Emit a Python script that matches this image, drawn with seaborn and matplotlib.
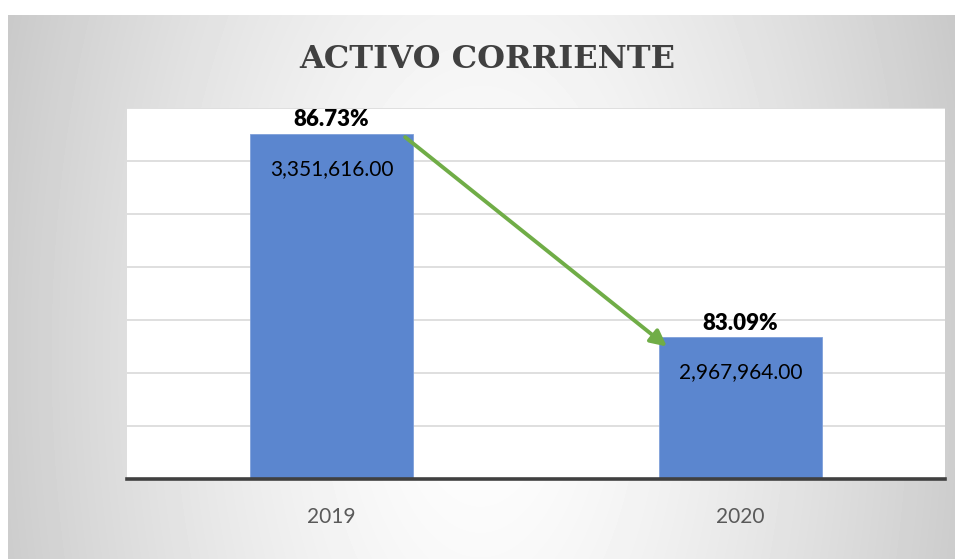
import numpy as np
import pandas as pd
import matplotlib
matplotlib.use("Agg")
import matplotlib.pyplot as plt
import seaborn as sns

# --- datos ---
years = ["2019", "2020"]
values = [3351616.00, 2967964.00]
percents = ["86.73%", "83.09%"]
title = "ACTIVO CORRIENTE"

df = pd.DataFrame({"Year": years, "Value": values})

sns.set_theme(style="white")
plt.rcParams["font.family"] = ["Lato", "DejaVu Sans"]

W, H = 955, 559
fig = plt.figure(figsize=(W / 100, H / 100), dpi=100)
fig.patch.set_facecolor("white")

# fondo con degradado radial (casi horizontal)
bg = fig.add_axes([8 / W, 0, 947 / W, 544 / H])
yy, xx = np.mgrid[0:544, 0:947]
r = np.sqrt(((xx - 472) / 520.0) ** 2 + ((yy - 340) / 1000.0) ** 2)
shade = 1.0 - 0.22 * np.clip(r, 0, 1) ** 1.4
bg.imshow(shade, cmap="gray", vmin=0, vmax=1, aspect="auto")
bg.axis("off")

# area de la grafica
ax = fig.add_axes([127 / W, (H - 479) / H, 818 / W, 371 / H])
ax.set_facecolor("white")
sns.barplot(data=df, x="Year", y="Value", color="#5B86CF", width=0.4,
            saturation=1, edgecolor="#7FA0DA", linewidth=0.6, ax=ax, zorder=3)

ax.set_ylim(2700000, 3400000)
ax.set_yticks(np.arange(2700000, 3400001, 100000))
ax.yaxis.grid(True, color="#D9D9D9", linewidth=1.2, zorder=0)
ax.set_axisbelow(True)
ax.set_yticklabels([])
ax.tick_params(axis="y", length=0)
ax.tick_params(axis="x", length=0, pad=20, labelsize=15, labelcolor="#595959")
ax.set_xlabel("")
ax.set_ylabel("")
for s in ["top", "left", "right"]:
    ax.spines[s].set_visible(False)
ax.spines["bottom"].set_color("#404040")
ax.spines["bottom"].set_linewidth(2.6)
ax.spines["bottom"].set_zorder(5)

for i, (v, p) in enumerate(zip(values, percents)):
    ax.text(i, v + 6000, p, ha="center", va="bottom", fontsize=16,
            fontweight="heavy", color="black", zorder=6)
    ax.text(i, v - 66000, f"{v:,.2f}", ha="center", va="center", fontsize=15,
            color="black", zorder=6)

# flecha verde
ax.annotate("", xy=(1 - 0.18, values[1] - 18000),
            xytext=(0.18, values[0] - 6500),
            arrowprops=dict(arrowstyle="-|>", color="#70AD47", lw=2.8,
                            mutation_scale=24, shrinkA=0, shrinkB=0),
            zorder=7)

fig.text(487 / W, 1 - 59 / H, title, ha="center", va="center",
         fontsize=23, fontweight="bold", color="#404040",
         family=["DejaVu Serif"])

fig.savefig("out.png", dpi=100)
